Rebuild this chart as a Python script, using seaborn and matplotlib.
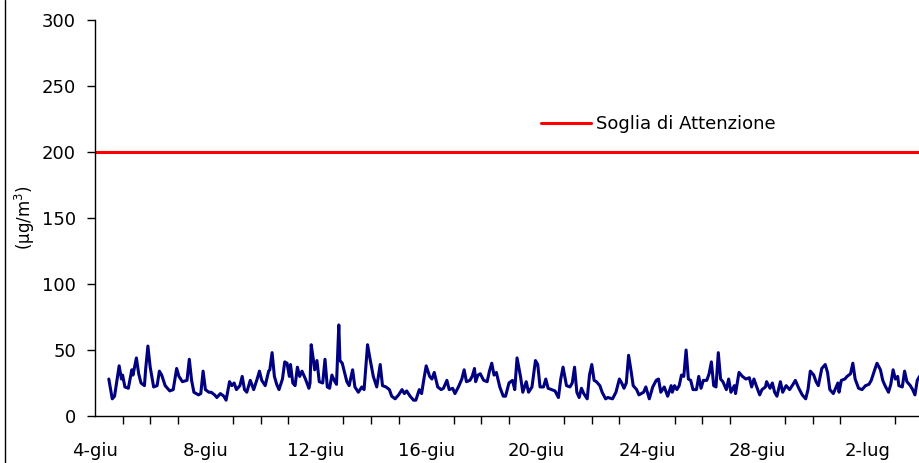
import pandas as pd
import seaborn as sns
import matplotlib.pyplot as plt
import matplotlib.dates as mdates
from matplotlib.lines import Line2D

# ore dall'inizio del 4 giugno e concentrazioni (µg/m3)
ore = [12, 15, 17, 21, 23, 24, 26, 29, 32, 33, 36, 38, 40, 43, 44, 46, 48, 51, 54, 56,
       58, 61, 65, 68, 71, 73, 76, 80, 82, 84, 86, 90, 92, 94, 96, 99, 101, 104, 106, 109,
       112, 114, 117, 119, 121, 123, 126, 128, 130, 132, 135, 138, 141, 143, 145, 148, 151, 152, 154, 156,
       158, 160, 163, 165, 167, 169, 170, 172, 174, 176, 178, 180, 183, 186, 187, 188,
       190, 191, 193, 195, 198, 200, 202, 204, 206, 208, 210, 212, 213, 215, 219, 221, 224, 226, 229, 232,
       234, 237, 239, 242, 245, 248, 250, 253, 256, 258, 261, 264, 267, 269, 271, 274, 277, 279, 282, 284,
       286, 288, 291, 293, 295, 298, 301, 303, 306, 308, 311, 313, 316, 319, 321, 323, 326, 328, 330, 331,
       333, 335, 338, 341, 343, 345, 347, 349, 352, 355, 357, 360, 363, 365, 367, 370, 372, 375, 377, 380,
       383, 385, 387,
       390, 392, 394, 397, 400, 403, 405, 407, 410, 413, 415, 417, 419, 421, 423, 425, 428, 430, 432, 434,
       436, 439, 441, 444, 446, 450, 453, 456, 458, 460, 462, 464, 466, 468, 471, 473, 477, 479, 482, 485,
       488, 490, 492, 495, 498, 501, 502, 504, 506, 508, 510, 512, 514, 516, 518, 520, 523, 525, 527, 529,
       532, 534, 536, 538, 540, 542, 544, 546, 549, 551, 553, 556, 557, 560, 563, 566, 569, 571, 573, 575,
       578,
       580, 583, 584, 587, 589, 591, 593, 596, 598, 601, 604, 607, 609, 612, 615, 618, 620, 622, 625, 627,
       629, 632, 635, 637, 639, 642, 646, 647, 649, 652, 654, 657, 659, 661, 664, 667, 670, 673, 675, 678,
       680, 683, 685, 687, 690, 692, 694, 696, 698, 699, 702, 704, 706, 709, 711, 713, 715, 717]
valori = [28, 13, 15, 38, 28, 31, 22, 21, 35, 31, 44, 32, 25, 23, 35, 53, 37, 22, 23, 34,
          31, 23, 19, 20, 36, 30, 26, 27, 43, 27, 18, 16, 17, 34, 20, 18, 18, 16, 14, 17,
          15, 12, 26, 23, 25, 20, 23, 30, 20, 18, 27, 20, 28, 34, 27, 23, 34, 35, 48, 30,
          24, 20, 28, 41, 40, 30, 39, 25, 23, 37, 30, 34, 28, 21, 25, 54,
          42, 35, 42, 26, 25, 43, 22, 21, 31, 27, 24, 69, 42, 40, 26, 23, 35, 22, 18, 22,
          20, 54, 44, 30, 22, 39, 23, 22, 20, 15, 13, 16, 20, 17, 19, 15, 12, 12, 20, 17,
          28, 38, 30, 28, 33, 22, 20, 21, 27, 20, 21, 17, 22, 28, 35, 26, 27, 30, 36, 26,
          31, 32, 27, 26, 34, 40, 31, 33, 22, 15, 15, 25, 27, 20, 44, 30, 18, 26, 18, 22,
          42, 39, 22,
          22, 28, 21, 20, 19, 14, 28, 37, 23, 22, 25, 37, 18, 14, 21, 17, 13, 31, 39, 27,
          26, 23, 18, 13, 14, 13, 18, 28, 25, 21, 25, 46, 35, 23, 20, 16, 18, 22, 13, 22,
          27, 28, 18, 22, 15, 23, 18, 23, 20, 23, 31, 30, 50, 28, 27, 20, 20, 30, 21, 27,
          27, 32, 41, 23, 22, 48, 28, 26, 20, 28, 18, 23, 17, 33, 30, 28, 29, 22, 28, 23,
          16,
          20, 22, 26, 21, 25, 18, 15, 26, 18, 23, 20, 24, 27, 21, 16, 13, 20, 34, 31, 26,
          23, 36, 39, 33, 20, 17, 25, 18, 27, 28, 30, 32, 40, 28, 21, 20, 23, 24, 27, 35,
          40, 35, 27, 23, 18, 24, 35, 28, 30, 23, 22, 34, 26, 23, 20, 16, 27, 30]

soglia = 200
soglia_label = "Soglia di Attenzione"
giorni_tick = ["2009-06-04", "2009-06-08", "2009-06-12", "2009-06-16",
               "2009-06-20", "2009-06-24", "2009-06-28", "2009-07-02"]
etichette_tick = ["4-giu", "8-giu", "12-giu", "16-giu", "20-giu", "24-giu", "28-giu", "2-lug"]

inizio = pd.Timestamp("2009-06-04")
df = pd.DataFrame({"data": inizio + pd.to_timedelta(ore, unit="h"), "conc": valori})

sns.set_style("white")
plt.rcParams["font.family"] = ["DejaVu Sans"]
plt.rcParams["font.size"] = 13
for k in ["text.color", "axes.labelcolor", "xtick.color", "ytick.color"]:
    plt.rcParams[k] = "black"

fig = plt.figure(figsize=(9.2, 4.63), dpi=100)
ax = fig.add_axes([95 / 920, 47 / 463, 825 / 920, 396 / 463])

sns.lineplot(data=df, x="data", y="conc", color="#000080", linewidth=2.2, ax=ax)
ax.axhline(soglia, color="#ff0000", linewidth=2.2, label=soglia_label)

ax.set_ylim(0, 300)
ax.set_yticks(range(0, 301, 50))
ax.set_xlim(inizio, inizio + pd.Timedelta(hours=717.4))
ax.set_xticks(pd.to_datetime(giorni_tick), labels=etichette_tick)
ax.xaxis.set_minor_locator(mdates.DayLocator())

ax.set_xlabel("")
ax.set_ylabel("(µg/m$^3$)", fontsize=12, labelpad=3)

for s in ["top", "right"]:
    ax.spines[s].set_visible(False)
for s in ["left", "bottom"]:
    ax.spines[s].set_color("black")
    ax.spines[s].set_linewidth(1.0)

ax.tick_params(axis="y", which="major", direction="out", length=5.8, width=1, color="black",
               labelcolor="black", pad=8, labelsize=13)
ax.tick_params(axis="x", which="both", direction="out", length=5.8, width=1, color="black",
               labelcolor="black", pad=13, labelsize=13)
ax.tick_params(axis="x", which="minor", bottom=True)
ax.tick_params(axis="y", left=True)

ax.legend(loc="center left", bbox_to_anchor=(541 / 920, 1 - 124 / 463), bbox_transform=fig.transFigure,
          frameon=False, borderaxespad=0, borderpad=0, handlelength=2.75, handletextpad=0.3, fontsize=13)

fig.add_artist(Line2D([5.5 / 920, 5.5 / 920], [0, 1], color="black", linewidth=1.0))

fig.savefig("out.png", dpi=100)
